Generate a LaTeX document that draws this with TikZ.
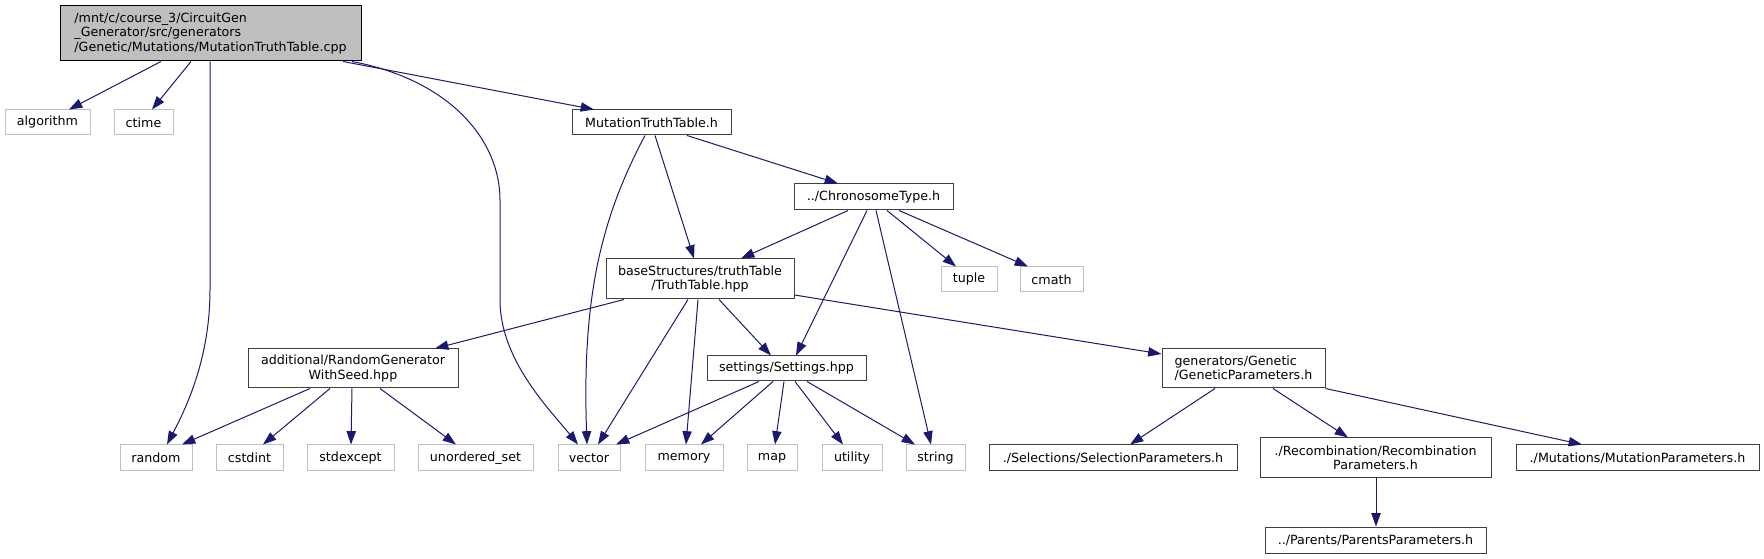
\documentclass[tikz,border=0pt]{standalone}
\usepackage{fontspec}
\setmainfont{DejaVu Sans}
\usetikzlibrary{arrows.meta,calc}
\definecolor{edgec}{HTML}{191970}
\definecolor{gdark}{HTML}{404040}
\definecolor{glight}{HTML}{BFBFBF}
\tikzset{
 basebox/.style={draw, line width=0.75pt, inner sep=0pt, font=\fontsize{9.5}{10.9}\selectfont, text=black, align=center},
 docbox/.style={basebox, draw=gdark},
 extbox/.style={basebox, draw=glight},
 rootbox/.style={basebox, draw=black, fill=glight, align=left},
 sz/.style 2 args={minimum width=#1*0.75pt, minimum height=#2*0.75pt},
 dep/.style={line width=0.75pt, color=edgec, -{Triangle[length=10pt,width=7pt]}}
}
\begin{document}
\begin{tikzpicture}[x=0.75pt,y=-0.75pt]
\useasboundingbox (0,0) rectangle (1764,559);
% nodes
\node[rootbox, sz={301}{55}] (root) at (210.5,33.5) {/mnt/c/course\_3/CircuitGen\\\_Generator/src/generators\\/Genetic/Mutations/MutationTruthTable.cpp};
\node[extbox, sz={85}{25}] (algorithm) at (47.5,122.5) {algorithm};
\node[extbox, sz={59}{25}] (ctime) at (143.5,122.5) {ctime};
\node[docbox, sz={159}{25}] (mtt) at (651.5,122.5) {MutationTruthTable.h};
\node[docbox, sz={159}{26}] (chrono) at (873.5,197) {../ChronosomeType.h};
\node[docbox, sz={188}{40}] (tt) at (700,279) {baseStructures/truthTable\\/TruthTable.hpp};
\node[extbox, sz={56}{25}] (tuple) at (969,279.5) {tuple};
\node[extbox, sz={63}{25}] (cmath) at (1051.5,279.5) {cmath};
\node[docbox, sz={210}{39}] (rg) at (353,368.5) {additional/RandomGenerator\\WithSeed.hpp};
\node[docbox, sz={159}{25}] (settings) at (786.5,368.5) {settings/Settings.hpp};
\node[docbox, sz={163}{39}, align=left] (gp) at (1243.5,368.5) {generators/Genetic\\/GeneticParameters.h};
\node[extbox, sz={72}{26}] (random) at (156,458) {random};
\node[extbox, sz={67}{26}] (cstdint) at (249.5,458) {cstdint};
\node[extbox, sz={87}{26}] (stdexcept) at (350.5,458) {stdexcept};
\node[extbox, sz={115}{26}] (unordered) at (475.5,458) {unordered\_set};
\node[extbox, sz={62}{26}] (vector) at (589,458) {vector};
\node[extbox, sz={78}{26}] (memory) at (684,458) {memory};
\node[extbox, sz={50}{26}] (map) at (772,458) {map};
\node[extbox, sz={60}{26}] (utility) at (852,458) {utility};
\node[extbox, sz={59}{26}] (string) at (935.5,458) {string};
\node[docbox, sz={248}{26}] (selection) at (1113,458) {./Selections/SelectionParameters.h};
\node[docbox, sz={231}{40}] (recomb) at (1375.5,458) {./Recombination/Recombination\\Parameters.h};
\node[docbox, sz={243}{26}] (mutparams) at (1637.5,458) {./Mutations/MutationParameters.h};
\node[docbox, sz={221}{26}] (parents) at (1375.5,540) {../Parents/ParentsParameters.h};
% edges
\draw[dep] (root.south -| 161,0) -- (algorithm.north -| 69,0);
\draw[dep] (root.south -| 191,0) -- (ctime.north -| 152,0);
\draw[dep] (root.south -| 210,0) -- (210,290) .. controls (210,360) and (185,410) .. (random.north -| 167,0);
\draw[dep] (root.south -| 343,0) -- (mtt.north -| 594,0);
\draw[dep] (root.south -| 352,0) .. controls (450,80) and (500,140) .. (500,200) -- (500,300) .. controls (500,360) and (550,410) .. (vector.north -| 578,0);
\draw[dep] (mtt.south -| 645,0) .. controls (600,220) and (582,300) .. (vector.north -| 587,0);
\draw[dep] (mtt.south -| 655,0) -- (tt.north -| 694,0);
\draw[dep] (mtt.south -| 687,0) -- (chrono.north -| 838,0);
\draw[dep] (chrono.south -| 848,0) -- (tt.north -| 741,0);
\draw[dep] (chrono.south -| 867,0) -- (settings.north -| 796,0);
\draw[dep] (chrono.south -| 876,0) -- (string.north -| 931,0);
\draw[dep] (chrono.south -| 887,0) -- (tuple.north -| 956,0);
\draw[dep] (chrono.south -| 899,0) -- (cmath.north -| 1028,0);
\draw[dep] (tt.south -| 624,0) -- (rg.north -| 435,0);
\draw[dep] (tt.south -| 688,0) -- (vector.north -| 598,0);
\draw[dep] (tt.south -| 698,0) -- (memory.north -| 686,0);
\draw[dep] (tt.south -| 719,0) -- (settings.north -| 771,0);
\draw[dep] (tt.east |- 0,295) -- (gp.west |- 0,354);
\draw[dep] (rg.south -| 310,0) -- (random.north -| 182,0);
\draw[dep] (rg.south -| 330,0) -- (cstdint.north -| 263,0);
\draw[dep] (rg.south -| 352,0) -- (stdexcept.north -| 351,0);
\draw[dep] (rg.south -| 380,0) -- (unordered.north -| 456,0);
\draw[dep] (settings.south -| 759,0) -- (vector.north -| 616,0);
\draw[dep] (settings.south -| 773,0) -- (memory.north -| 701,0);
\draw[dep] (settings.south -| 784,0) -- (map.north -| 775,0);
\draw[dep] (settings.south -| 795,0) -- (utility.north -| 843,0);
\draw[dep] (settings.south -| 807,0) -- (string.north -| 915,0);
\draw[dep] (gp.south -| 1215,0) -- (selection.north -| 1130,0);
\draw[dep] (gp.south -| 1273,0) -- (recomb.north -| 1348,0);
\draw[dep] (gp.south east) -- (mutparams.north -| 1582,0);
\draw[dep] (recomb.south -| 1376,0) -- (parents.north -| 1376,0);
\end{tikzpicture}
\end{document}
